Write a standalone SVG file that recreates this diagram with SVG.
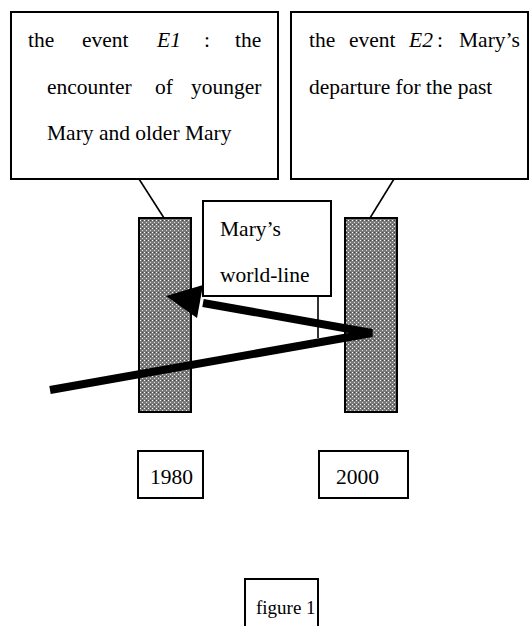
<svg xmlns="http://www.w3.org/2000/svg" width="530" height="626" viewBox="0 0 530 626">
<style>
  .box { fill: #fff; stroke: #000; stroke-width: 2; }
  .t { font-family: "Liberation Serif", "Times New Roman", serif; font-size: 21.5px; fill: #000; }
  .it { font-style: italic; }
  .conn { stroke: #000; stroke-width: 1.6; fill: none; }
  .pillar { fill: url(#dots); stroke: #000; stroke-width: 2; }
</style>
<defs>
  <pattern id="dots" width="4" height="4" patternUnits="userSpaceOnUse">
    <rect width="4" height="4" fill="#7a7a7a"/>
    <rect x="0" y="0" width="1" height="1" fill="#fff"/>
    <rect x="2" y="2" width="1" height="1" fill="#e0e0e0"/>
    <rect x="2" y="0" width="1" height="1" fill="#444"/>
  </pattern>
</defs>
<rect width="530" height="626" fill="#fff"/>

<g id="connectors">
  <line class="conn" x1="139" y1="179" x2="164" y2="218"/>
  <line class="conn" x1="394" y1="179" x2="370" y2="218"/>
</g>

<g id="pillar1980"><rect class="pillar" x="139" y="218" width="52" height="194"/></g>
<g id="pillar2000"><rect class="pillar" x="345" y="218" width="52" height="194"/></g>

<g id="e1">
  <rect class="box" x="11" y="12" width="267" height="167"/>
  <text class="t" y="47"><tspan x="28">the</tspan><tspan x="82">event</tspan><tspan x="157" class="it">E1</tspan><tspan x="204">:</tspan><tspan x="235">the</tspan></text>
  <text class="t" y="94"><tspan x="47">encounter</tspan><tspan x="155">of</tspan><tspan x="191">younger</tspan></text>
  <text class="t" x="47" y="140">Mary and older Mary</text>
</g>

<g id="e2">
  <rect class="box" x="291" y="12" width="237" height="167"/>
  <text class="t" y="47"><tspan x="309">the</tspan><tspan x="349">event</tspan><tspan x="409" class="it">E2</tspan><tspan x="437">:</tspan><tspan x="459">Mary’s</tspan></text>
  <text class="t" x="309" y="94">departure for the past</text>
</g>

<g id="worldline">
  <rect class="box" x="203" y="201" width="128" height="95"/>
  <text class="t" x="220" y="236">Mary’s</text>
  <text class="t" x="220" y="282">world-line</text>
  <line class="conn" x1="318" y1="296" x2="318" y2="338"/>
</g>

<g id="arrow">
  <polyline points="50,390 372,333 203,303" fill="none" stroke="#000" stroke-width="8"/>
  <polygon points="166,296 203,285 197,318" fill="#000"/>
</g>

<g id="y1980">
  <rect class="box" x="138" y="451" width="65" height="47"/>
  <text class="t" x="150" y="484">1980</text>
</g>
<g id="y2000">
  <rect class="box" x="319" y="451" width="89" height="47"/>
  <text class="t" x="336" y="484">2000</text>
</g>

<g id="figure1">
  <path d="M245,630 V579 H318 V630" class="box"/>
  <text class="t" x="256" y="614" style="font-size:19px">figure 1</text>
</g>
</svg>
